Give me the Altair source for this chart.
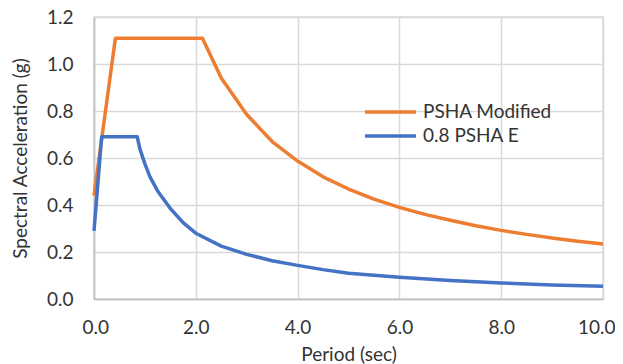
import altair as alt
import pandas as pd

# PSHA Modified
t_mod = [0.0, 0.42, 2.13, 2.5, 3.0, 3.5, 4.0, 4.5, 5.0, 5.5, 6.0, 6.5, 7.0, 7.5, 8.0, 8.5, 9.0, 9.5, 10.0]
sa_mod = [0.44, 1.11, 1.11, 0.94, 0.785, 0.67, 0.587, 0.52, 0.468, 0.425, 0.39, 0.36, 0.335, 0.312, 0.292, 0.275, 0.26, 0.246, 0.234]

# 0.8 PSHA E
t_e = [0.0, 0.15, 0.85, 0.9, 1.0, 1.1, 1.25, 1.5, 1.75, 2.0, 2.5, 3.0, 3.5, 4.0, 4.5, 5.0, 6.0, 7.0, 8.0, 9.0, 10.0]
sa_e = [0.29, 0.69, 0.69, 0.64, 0.575, 0.52, 0.46, 0.385, 0.325, 0.28, 0.225, 0.19, 0.163, 0.143, 0.125, 0.11, 0.093, 0.079, 0.068, 0.06, 0.054]

series_names = ["PSHA Modified", "0.8 PSHA E"]
series_colors = ["#ED7D31", "#4472C4"]

df = pd.concat([
    pd.DataFrame({"T": t_mod, "SA": sa_mod, "series": series_names[0], "o": range(len(t_mod))}),
    pd.DataFrame({"T": t_e, "SA": sa_e, "series": series_names[1], "o": range(len(t_e))}),
])

font = "Lato"

chart = alt.Chart(df).mark_line(strokeWidth=3.5, strokeJoin="round").encode(
    x=alt.X("T:Q", title="Period (sec)",
            scale=alt.Scale(domain=[0, 10], nice=False),
            axis=alt.Axis(values=[0, 2, 4, 6, 8, 10], format=".1f", ticks=False,
                          labelFlush=True, labelFlushOffset=12,
                          labelPadding=19, titlePadding=8)),
    y=alt.Y("SA:Q", title="Spectral Acceleration (g)",
            scale=alt.Scale(domain=[0, 1.2], nice=False),
            axis=alt.Axis(values=[0, 0.2, 0.4, 0.6, 0.8, 1.0, 1.2], format=".1f", ticks=False,
                          labelFlush=False, labelPadding=21,
                          titleX=-64, titleY=141)),
    color=alt.Color("series:N", scale=alt.Scale(domain=series_names, range=series_colors),
                    legend=alt.Legend(title=None, orient="none", legendX=269, legendY=85,
                                      symbolType="stroke", symbolSize=2601, symbolStrokeWidth=3.5,
                                      labelFontSize=19, labelFont=font, rowPadding=4, clipHeight=20,
                                      labelOffset=5, labelColor="#333333")),
    order="o:Q",
).properties(
    width=509, height=282,
    autosize=alt.AutoSizeParams(type="none"),
    padding={"left": 86, "top": 9, "right": 12, "bottom": 65},
).configure_view(stroke="#D9D9D9", strokeWidth=1.5).configure_axis(
    grid=True, gridColor="#D9D9D9", gridWidth=1.5,
    domainColor="#BFBFBF", domainWidth=1.5,
    labelFont=font, labelFontSize=19, labelColor="#333333",
    titleFont=font, titleFontSize=19, titleFontWeight="normal", titleColor="#333333",
)

chart.save("out.html", embed_options={"renderer": "svg", "actions": False})
